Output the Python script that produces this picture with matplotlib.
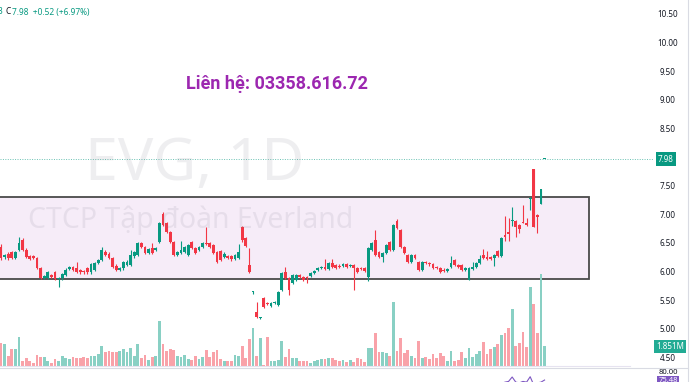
import matplotlib
matplotlib.use("Agg")
import matplotlib.pyplot as plt
import matplotlib.transforms as mtransforms
from matplotlib.patches import Rectangle
import numpy as np

# EVG daily candles
opens = [6.44, 6.27, 6.33, 6.35, 6.25, 6.39, 6.57, 6.39, 6.29, 6.28,
         6.25, 6.08, 5.91, 5.90, 5.96, 6.00, 5.88, 5.90, 5.95, 6.06,
         6.09, 6.08, 6.04, 6.02, 6.08, 6.00, 6.05, 6.16, 6.22, 6.36,
         6.33, 6.25, 6.12, 6.05, 6.07, 6.13, 6.13, 6.28, 6.30, 6.51,
         6.44, 6.34, 6.43, 6.40, 6.53, 7.02, 6.86, 6.71, 6.53, 6.30,
         6.34, 6.36, 6.30, 6.53, 6.43, 6.39, 6.44, 6.52, 6.51, 6.48,
         6.36, 6.37, 6.27, 6.28, 6.28, 6.24, 6.25, 6.79, 6.60, 6.13,
         5.65, 5.31, 5.20, 5.55, 5.47, 5.42, 5.46, 5.43, 5.70, 6.00,
         5.90, 5.82, 5.87, 5.96, 5.92, 5.92, 5.94, 5.99, 6.04, 6.08,
         6.09, 6.06, 6.16, 6.13, 6.12, 6.12, 6.14, 6.12, 6.13, 6.08,
         6.08, 6.07, 5.92, 6.40, 6.56, 6.36, 6.27, 6.34, 6.53, 6.39,
         6.90, 6.74, 6.44, 6.30, 6.19, 6.30, 6.18, 6.04, 6.18, 6.17,
         6.14, 6.09, 6.08, 6.05, 6.03, 6.09, 6.22, 6.13, 6.13, 6.05,
         5.87, 6.06, 6.09, 6.16, 6.30, 6.27, 6.27, 6.25, 6.37, 6.29,
         6.65, 6.70, 6.90, 6.90, 6.83, 6.88, 6.86, 7.28, 7.80, 7.00,
         7.20, 7.98]
highs = [6.50, 6.33, 6.36, 6.38, 6.38, 6.62, 6.60, 6.42, 6.31, 6.30,
         6.27, 6.10, 5.95, 6.02, 5.98, 6.02, 5.92, 5.99, 6.07, 6.11,
         6.11, 6.18, 6.06, 6.04, 6.10, 6.17, 6.18, 6.23, 6.45, 6.40,
         6.35, 6.27, 6.14, 6.10, 6.20, 6.21, 6.39, 6.38, 6.53, 6.53,
         6.46, 6.43, 6.51, 6.44, 6.88, 7.05, 6.88, 6.73, 6.55, 6.37,
         6.55, 6.47, 6.50, 6.55, 6.45, 6.46, 6.53, 6.79, 6.53, 6.50,
         6.38, 6.39, 6.35, 6.30, 6.30, 6.32, 6.49, 6.81, 6.62, 6.42,
         5.68, 5.49, 5.22, 5.57, 5.49, 5.48, 5.50, 5.68, 6.01, 6.09,
         5.92, 5.97, 5.98, 5.98, 5.94, 5.94, 6.01, 6.04, 6.10, 6.11,
         6.23, 6.18, 6.23, 6.15, 6.14, 6.16, 6.16, 6.15, 6.15, 6.10,
         6.10, 6.09, 6.45, 6.53, 6.74, 6.38, 6.36, 6.50, 6.55, 6.85,
         6.93, 6.76, 6.46, 6.32, 6.32, 6.32, 6.20, 6.20, 6.20, 6.19,
         6.16, 6.11, 6.10, 6.07, 6.08, 6.28, 6.24, 6.15, 6.15, 6.09,
         6.10, 6.18, 6.18, 6.31, 6.41, 6.38, 6.29, 6.32, 6.39, 6.62,
         6.99, 6.95, 7.14, 6.92, 6.85, 7.18, 6.95, 7.31, 7.80, 7.02,
         7.46, 7.98]
lows = [6.22, 6.24, 6.22, 6.23, 6.24, 6.37, 6.37, 6.25, 6.21, 6.23,
        6.06, 5.88, 5.88, 5.88, 5.90, 5.86, 5.75, 5.87, 5.93, 6.04,
        6.02, 5.99, 5.98, 5.98, 5.98, 5.98, 6.03, 6.14, 6.20, 6.29,
        6.23, 6.07, 6.02, 6.03, 6.05, 6.11, 6.11, 6.26, 6.28, 6.42,
        6.32, 6.32, 6.32, 6.38, 6.51, 6.81, 6.69, 6.51, 6.28, 6.28,
        6.32, 6.34, 6.28, 6.41, 6.32, 6.37, 6.42, 6.48, 6.42, 6.32,
        6.16, 6.20, 6.25, 6.24, 6.20, 6.22, 6.23, 6.54, 6.44, 5.99,
        5.63, 5.20, 5.19, 5.38, 5.43, 5.40, 5.44, 5.41, 5.68, 5.88,
        5.60, 5.80, 5.85, 5.90, 5.85, 5.82, 5.92, 5.97, 6.02, 6.06,
        6.04, 6.04, 6.08, 6.06, 6.07, 6.10, 6.07, 6.10, 5.69, 5.99,
        6.04, 6.01, 5.85, 6.38, 6.28, 6.25, 6.18, 6.32, 6.37, 6.37,
        6.76, 6.42, 6.32, 6.16, 6.17, 6.23, 6.02, 6.02, 6.14, 6.12,
        6.06, 6.06, 5.99, 6.00, 6.01, 6.07, 6.11, 6.07, 6.02, 6.03,
        5.86, 6.04, 6.07, 6.14, 6.23, 6.21, 6.21, 6.12, 6.27, 6.27,
        6.55, 6.55, 6.81, 6.62, 6.69, 6.86, 6.81, 7.09, 6.79, 6.69,
        7.20, 7.98]
closes = [6.25, 6.30, 6.25, 6.25, 6.35, 6.51, 6.39, 6.27, 6.23, 6.25,
          6.08, 5.90, 5.93, 6.00, 5.92, 5.88, 5.90, 5.97, 6.05, 6.09,
          6.04, 6.01, 6.00, 6.00, 6.00, 6.15, 6.16, 6.21, 6.39, 6.31,
          6.25, 6.09, 6.04, 6.08, 6.18, 6.19, 6.30, 6.36, 6.51, 6.44,
          6.34, 6.41, 6.34, 6.42, 6.86, 6.83, 6.71, 6.53, 6.30, 6.35,
          6.40, 6.45, 6.48, 6.43, 6.34, 6.44, 6.51, 6.50, 6.44, 6.34,
          6.18, 6.22, 6.33, 6.26, 6.24, 6.30, 6.36, 6.56, 6.46, 6.01,
          5.66, 5.22, 5.21, 5.40, 5.45, 5.46, 5.48, 5.66, 5.99, 5.90,
          5.69, 5.95, 5.96, 5.92, 5.87, 5.90, 5.99, 6.02, 6.08, 6.09,
          6.06, 6.16, 6.10, 6.08, 6.09, 6.14, 6.09, 6.13, 6.08, 6.01,
          6.06, 6.03, 6.43, 6.51, 6.30, 6.27, 6.34, 6.48, 6.39, 6.83,
          6.78, 6.44, 6.34, 6.18, 6.30, 6.25, 6.04, 6.18, 6.16, 6.14,
          6.08, 6.08, 6.01, 6.02, 6.06, 6.16, 6.13, 6.09, 6.04, 6.07,
          6.08, 6.09, 6.16, 6.23, 6.25, 6.23, 6.23, 6.30, 6.29, 6.60,
          6.62, 6.67, 6.92, 6.79, 6.76, 6.86, 6.83, 7.30, 6.80, 6.96,
          7.46, 7.98]
# volume in millions of shares
volumes = [2.16, 2.01, 0.93, 1.57, 1.57, 2.71, 0.49, 0.77, 0.49, 0.31,
           1.02, 0.81, 0.81, 0.46, 0.31, 0.62, 0.44, 0.93, 0.77, 0.65,
           0.83, 0.77, 0.77, 0.86, 0.77, 0.93, 0.93, 1.11, 1.85, 1.32,
           1.36, 1.32, 1.32, 1.42, 1.57, 1.32, 1.67, 0.93, 2.06, 0.77,
           0.99, 0.58, 0.86, 0.93, 4.14, 2.06, 1.42, 1.57, 1.48, 0.93,
           0.86, 0.99, 0.68, 0.56, 0.95, 0.68, 0.81, 1.45, 0.81, 1.32,
           1.51, 0.65, 0.46, 0.44, 0.44, 1.02, 0.93, 1.88, 0.74, 2.53,
           3.52, 0.90, 2.56, 0.09, 2.71, 0.49, 0.49, 0.56, 2.34, 0.83,
           1.55, 0.74, 0.71, 0.49, 0.49, 0.44, 0.31, 0.49, 0.58, 0.62,
           0.62, 0.77, 0.71, 0.56, 0.49, 0.56, 0.40, 0.56, 0.37, 0.71,
           0.62, 0.40, 1.64, 1.64, 3.03, 1.27, 1.30, 1.23, 0.93, 5.95,
           1.42, 2.62, 1.18, 1.48, 0.93, 0.77, 2.34, 0.77, 0.83, 0.62,
           1.08, 0.74, 1.20, 0.95, 0.49, 1.36, 0.46, 0.56, 1.27, 0.74,
           1.69, 0.86, 1.11, 1.39, 2.25, 1.14, 1.55, 1.79, 2.06, 2.87,
           3.06, 3.55, 5.28, 1.85, 2.13, 3.18, 1.79, 7.29, 5.71, 3.06,
           8.52, 1.851]
# RSI tail that peeks into the lower pane
rsi_idx = [136, 137, 138, 139, 140, 141, 142, 143, 144, 145, 146, 147, 148, 149, 150, 151]
rsi_vals = [70.0, 71.0, 72.0, 73.0, 74.0, 74.5, 77.6, 74.0, 73.5, 74.5, 74.0, 77.8, 72.0, 73.5, 74.0, 75.48]

price_ticks = [4.5, 5.0, 5.5, 6.0, 6.5, 7.0, 7.5, 8.0, 8.5, 9.0, 9.5, 10.0, 10.5]
last_price = 7.98
last_volume = 1.851
last_rsi = 75.48
box_top, box_bottom, box_end = 7.32, 5.885, 163.3

UP = "#089981"
DOWN = "#f23645"
W, H = 690, 382

fig = plt.figure(figsize=(W / 100, H / 100), dpi=100)
fig.patch.set_facecolor("white")
plt.rcParams["font.family"] = ["Noto Sans", "DejaVu Sans"]

idx = np.arange(len(opens))
o = np.array(opens)
c = np.array(closes)
up = c >= o
colors = np.where(up, UP, DOWN)

# main price pane
ax = fig.add_axes([0, 0, 1, 1])
ax.set_xlim(-0.278, 191.4)
ax.set_ylim(4.084, 10.762)
ax.axis("off")

# volume overlay (shares x with price)
axv = fig.add_axes([0, 0, 1, 1], sharex=ax)
axv.set_ylim(-1.48, 33.9)
axv.axis("off")
axv.patch.set_alpha(0)

# RSI strip at the very bottom
axr = fig.add_axes([0, 0, 1, 14 / H], sharex=ax)
axr.set_ylim(74.1, 83.9)
axr.axis("off")
axr.patch.set_alpha(0)

# watermark
wm = (0.47, 0.47, 0.53, 0.12)
fig.text(85 / W, 1 - 180 / H, "EVG, 1D", fontsize=42.5, color=wm, va="baseline", ha="left", zorder=0)

# range box
ax.add_patch(Rectangle((-1.0, box_bottom), box_end + 1.0, box_top - box_bottom,
                       facecolor="#f6ecf8", edgecolor="#4a4a4a", linewidth=1.3, zorder=1))
fig.text(28 / W, 1 - 228 / H, "CTCP Tập đoàn Everland", fontsize=20.5, color=wm,
         va="baseline", ha="left", zorder=2)

# volume bars
vol_colors = np.where(up, "#89d0c4", "#f9a2a9")
axv.bar(idx, volumes, width=0.75, color=vol_colors, zorder=2)
axv.axhline(0, xmin=0, xmax=630 / W, color="#e6e3f0", linewidth=0.8)

# candles
bodies = np.maximum(np.abs(c - o), 0.018)
ax.vlines(idx, lows, highs, colors=colors, linewidth=0.8, zorder=3)
ax.bar(idx, bodies, bottom=np.minimum(o, c), width=0.75, color=colors, zorder=4)

# last price line
ax.axhline(last_price, xmin=0, xmax=653 / W, color=UP, linewidth=0.7,
           linestyle=(0, (1, 1.5)), alpha=0.6, zorder=2)

# right price scale
tr = mtransforms.blended_transform_factory(fig.transFigure, ax.transData)
for t in price_ticks:
    if abs(t - last_price) < 0.2:
        continue
    ax.text(668 / W, t, f"{t:.2f}", transform=tr, fontsize=5.8, color="#131722",
            ha="center", va="center")
ax.text(666 / W, last_price, f"{last_price:.2f}", transform=tr, fontsize=5.8, color="white",
        ha="center", va="center", fontweight="bold",
        bbox=dict(boxstyle="square,pad=0.3", facecolor=UP, edgecolor="none"))
trv = mtransforms.blended_transform_factory(fig.transFigure, axv.transData)
axv.text(670 / W, last_volume, f"{last_volume:.3f}M", transform=trv, fontsize=5.8,
         color="white", ha="center", va="center", fontweight="bold",
         bbox=dict(boxstyle="square,pad=0.25", facecolor="#22ab94", edgecolor="none"))

# lower pane separator + RSI
fig.add_artist(plt.Line2D([0, 688 / W], [1 - 368 / H, 1 - 368 / H], transform=fig.transFigure,
                          color="#d9dbe3", linewidth=0.8))
axr.plot(rsi_idx, rsi_vals, color="#7e57c2", linewidth=0.8)
trr = mtransforms.blended_transform_factory(fig.transFigure, axr.transData)
axr.text(668 / W, 80.6, "80.00", transform=trr, fontsize=5.5, color="#131722",
         ha="center", va="center")
axr.text(668 / W, last_rsi - 0.6, f"{last_rsi:.2f}", transform=trr, fontsize=5.5, color="white",
         ha="center", va="center", fontweight="bold",
         bbox=dict(boxstyle="square,pad=0.2", facecolor="#7e57c2", edgecolor="none"))

# right border
fig.add_artist(plt.Line2D([688 / W, 688 / W], [0, 1], transform=fig.transFigure,
                          color="#d9dbe3", linewidth=0.8))

# contact note
fig.text(277 / W, 1 - 84 / H, "Liên hệ: 03358.616.72", fontsize=13, fontweight="bold",
         family=["Roboto", "DejaVu Sans"], color="#9c27b0", ha="center", va="center")

# legend header
fig.text(-2 / W, 1 - 12 / H, "3", fontsize=6, color=UP, va="center", ha="left")
fig.text(6 / W, 1 - 12 / H, "C", fontsize=6, color="#131722", va="center", ha="left")
fig.text(12 / W, 1 - 12 / H, f"{last_price:.2f}  +0.52 (+6.97%)", fontsize=6, color=UP,
         va="center", ha="left")

fig.savefig("out.png", dpi=100)
